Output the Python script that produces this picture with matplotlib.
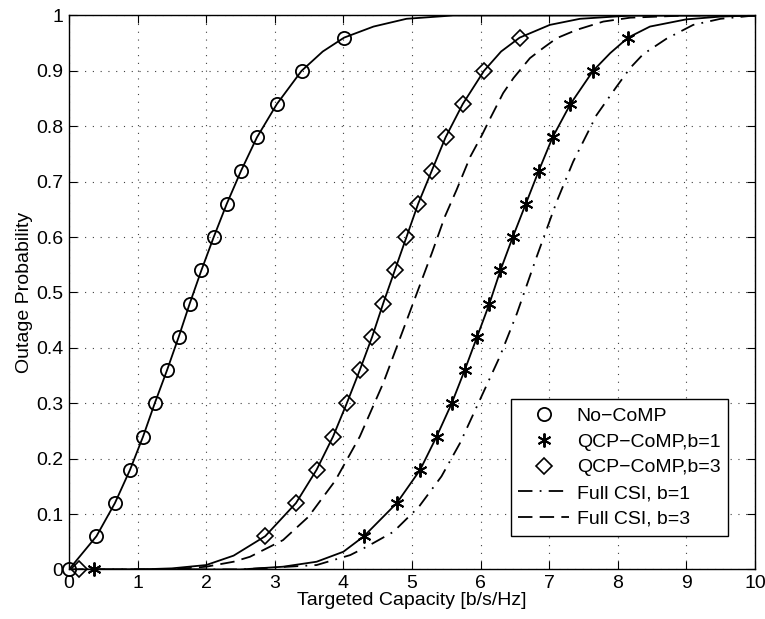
import matplotlib.pyplot as plt

plt.rcParams['font.family'] = ['Liberation Sans', 'DejaVu Sans']

# No-CoMP (solid line, circle markers)
nocomp_x = [0, 0.40, 0.67, 0.89, 1.08, 1.25, 1.43, 1.60, 1.76, 1.93, 2.11, 2.30, 2.51, 2.74, 3.03, 3.39,
            3.70, 4.01, 4.44, 4.92, 5.6, 10]
nocomp_y = [0, 0.06, 0.12, 0.18, 0.24, 0.30, 0.36, 0.42, 0.48, 0.54, 0.60, 0.66, 0.72, 0.78, 0.84, 0.90,
            0.935, 0.96, 0.98, 0.994, 1.0, 1.0]
nocomp_marks = [0, 1, 2, 3, 4, 5, 6, 7, 8, 9, 10, 11, 12, 13, 14, 15, 17]

# QCP-CoMP, b=1 (solid line, star markers)
qcp1_x = [0.37, 2.5, 3.12, 3.61, 4.0, 4.30, 4.78, 5.12, 5.36, 5.58, 5.77, 5.95, 6.13, 6.29, 6.47, 6.66,
          6.85, 7.05, 7.31, 7.64, 7.89, 8.15, 8.47, 9.0, 9.5, 10]
qcp1_y = [0, 0.0, 0.005, 0.014, 0.032, 0.06, 0.12, 0.18, 0.24, 0.30, 0.36, 0.42, 0.48, 0.54, 0.60, 0.66,
          0.72, 0.78, 0.84, 0.90, 0.932, 0.96, 0.98, 0.993, 0.998, 1.0]
qcp1_marks = [0, 5, 6, 7, 8, 9, 10, 11, 12, 13, 14, 15, 16, 17, 18, 19, 21]

# QCP-CoMP, b=3 (solid line, diamond markers)
qcp3_x = [0.15, 1.0, 1.5, 2.0, 2.4, 2.86, 3.31, 3.61, 3.85, 4.05, 4.24, 4.42, 4.58, 4.75, 4.92, 5.09,
          5.29, 5.49, 5.74, 6.05, 6.30, 6.57, 7.01, 7.45, 8.2, 10]
qcp3_y = [0, 0.0, 0.002, 0.008, 0.025, 0.06, 0.12, 0.18, 0.24, 0.30, 0.36, 0.42, 0.48, 0.54, 0.60, 0.66,
          0.72, 0.78, 0.84, 0.90, 0.935, 0.96, 0.983, 0.994, 1.0, 1.0]
qcp3_marks = [0, 5, 6, 7, 8, 9, 10, 11, 12, 13, 14, 15, 16, 17, 18, 19, 21]

# Full CSI, b=1 (dash-dot)
csi1_x = [0, 2.5, 3.61, 4.10, 4.34, 4.73, 5.10, 5.43, 5.70, 5.99, 6.28, 6.53, 6.82, 7.11, 7.35, 7.69,
          7.98, 8.18, 8.37, 8.71, 9.10, 9.5, 10]
csi1_y = [0, 0.0, 0.008, 0.026, 0.041, 0.068, 0.113, 0.168, 0.228, 0.306, 0.384, 0.462, 0.565, 0.664,
          0.736, 0.82, 0.871, 0.905, 0.93, 0.958, 0.983, 0.994, 1.0]

# Full CSI, b=3 (dashed)
csi3_x = [0, 1.5, 2.0, 2.40, 2.64, 3.12, 3.49, 3.88, 4.24, 4.58, 4.87, 5.29, 5.48, 5.65, 5.85, 6.02,
          6.14, 6.33, 6.48, 6.72, 6.91, 7.11, 7.40, 7.79, 8.18, 9.0, 10]
csi3_y = [0, 0.0, 0.005, 0.014, 0.023, 0.053, 0.095, 0.16, 0.24, 0.336, 0.432, 0.571, 0.637, 0.685,
          0.745, 0.784, 0.814, 0.86, 0.887, 0.923, 0.941, 0.959, 0.974, 0.989, 0.996, 1.0, 1.0]

x_ticks = [0, 1, 2, 3, 4, 5, 6, 7, 8, 9, 10]
y_ticks = [0, 0.1, 0.2, 0.3, 0.4, 0.5, 0.6, 0.7, 0.8, 0.9, 1]
y_ticklabels = ['0', '0.1', '0.2', '0.3', '0.4', '0.5', '0.6', '0.7', '0.8', '0.9', '1']

fig = plt.figure(figsize=(7.65, 6.19), dpi=100)
ax = fig.add_axes([0.0902, 0.080, 0.8966, 0.895])

lw = 1.3
k = 'black'
fs = 14

# solid curves
ax.plot(nocomp_x, nocomp_y, color=k, lw=lw)
ax.plot(qcp1_x, qcp1_y, color=k, lw=lw)
ax.plot(qcp3_x, qcp3_y, color=k, lw=lw)

# markers
ax.plot([nocomp_x[i] for i in nocomp_marks], [nocomp_y[i] for i in nocomp_marks], ls='none',
        marker='o', ms=9.5, mfc='none', mec=k, mew=1.3, label='No\u2212CoMP', clip_on=False)
ax.plot([qcp1_x[i] for i in qcp1_marks], [qcp1_y[i] for i in qcp1_marks], ls='none',
        marker=(6, 2, 0), ms=10, mec=k, mew=1.4, label='QCP\u2212CoMP,b=1', clip_on=False)
ax.plot([qcp3_x[i] for i in qcp3_marks], [qcp3_y[i] for i in qcp3_marks], ls='none',
        marker='D', ms=8, mfc='none', mec=k, mew=1.2, label='QCP\u2212CoMP,b=3', clip_on=False)

ax.plot(csi1_x, csi1_y, color=k, lw=lw, ls=(0, (8, 4, 1, 4)), label='Full CSI, b=1')
ax.plot(csi3_x, csi3_y, color=k, lw=lw, ls=(0, (8, 4)), label='Full CSI, b=3')

ax.set_xlim(0, 10)
ax.set_ylim(0, 1)
ax.set_xticks(x_ticks)
ax.set_yticks(y_ticks)
ax.set_yticklabels(y_ticklabels)
ax.tick_params(direction='in', top=True, right=True, length=6, width=0.8, labelsize=fs, pad=4)
ax.grid(True, color='0.25', ls=(0, (1, 6)), lw=0.8)
for s in ax.spines.values():
    s.set_linewidth(1.0)

ax.set_xlabel('Targeted Capacity [b/s/Hz]', fontsize=fs, labelpad=0)
ax.set_ylabel('Outage Probability', fontsize=fs, labelpad=2)

leg = ax.legend(loc='lower right', bbox_to_anchor=(0.961, 0.061), fontsize=fs, frameon=True,
                fancybox=False, edgecolor=k, framealpha=1, borderpad=0.4, labelspacing=0.42,
                handlelength=2.6, handletextpad=0.4, borderaxespad=0)
leg.get_frame().set_linewidth(1.0)

fig.savefig('out.png', dpi=100)
